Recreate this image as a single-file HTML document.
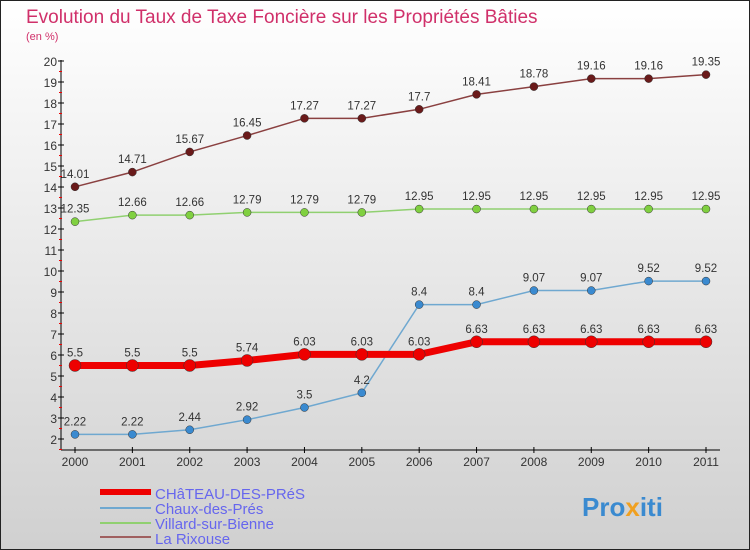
<!DOCTYPE html>
<html><head><meta charset="utf-8"><style>
body{margin:0;}
#c{width:750px;height:550px;position:relative;overflow:hidden;font-family:"Liberation Sans",sans-serif;}
</style></head><body>
<div id="c">
<svg id="s" width="750" height="550" xmlns="http://www.w3.org/2000/svg">
<defs><linearGradient id="bg" x1="0" y1="0" x2="0" y2="1"><stop offset="0" stop-color="#ffffff"/><stop offset="1" stop-color="#d0d0d0"/></linearGradient></defs>
<rect x="0.5" y="0.5" width="749" height="549" fill="url(#bg)" stroke="#222"/>
<text x="26" y="23" font-size="19" fill="#d0306a">Evolution du Taux de Taxe Foncière sur les Propriétés Bâties</text>
<text x="26" y="40" font-size="11" fill="#d0306a">(en %)</text>
<g id="axes"></g><g id="series"></g>
<g>
<line x1="100" y1="492" x2="151" y2="492" stroke="#ee0000" stroke-width="6"/>
<text x="155" y="499" font-size="15" fill="#6666ee">CHâTEAU-DES-PRéS</text>
<line x1="100" y1="508" x2="151" y2="508" stroke="#6fa8d0" stroke-width="2"/>
<text x="155" y="514" font-size="15" fill="#6666ee">Chaux-des-Prés</text>
<line x1="100" y1="523" x2="151" y2="523" stroke="#90d070" stroke-width="2"/>
<text x="155" y="529" font-size="15" fill="#6666ee">Villard-sur-Bienne</text>
<line x1="100" y1="537" x2="151" y2="537" stroke="#a06060" stroke-width="2"/>
<text x="155" y="544" font-size="15" fill="#6666ee">La Rixouse</text>
</g>
<text x="582" y="516" font-size="26" font-weight="bold" fill="#3a8ad0">Pro<tspan fill="#f0a020">x</tspan>iti</text>
</svg>
</div>
<script>
const years=[2000,2001,2002,2003,2004,2005,2006,2007,2008,2009,2010,2011];
const chateau=[5.5,5.5,5.5,5.74,6.03,6.03,6.03,6.63,6.63,6.63,6.63,6.63];
const chaux=[2.22,2.22,2.44,2.92,3.5,4.2,8.4,8.4,9.07,9.07,9.52,9.52];
const villard=[12.35,12.66,12.66,12.79,12.79,12.79,12.95,12.95,12.95,12.95,12.95,12.95];
const rixouse=[14.01,14.71,15.67,16.45,17.27,17.27,17.7,18.41,18.78,19.16,19.16,19.35];
const yTicks=[2,3,4,5,6,7,8,9,10,11,12,13,14,15,16,17,18,19,20];
const NS="http://www.w3.org/2000/svg";
function xS(i){return 75+i*(706-75)/11;}
function yS(v){return 439-(v-2)*(439-61)/18;}
function mk(t,a,p){const e=document.createElementNS(NS,t);for(const k in a)e.setAttribute(k,a[k]);p.appendChild(e);return e;}
const ax=document.getElementById('axes');
let e=mk('line',{x1:61,y1:60,x2:61,y2:450,stroke:'#000'},ax);


e=mk('line',{x1:61,y1:450,x2:720,y2:450,stroke:'#000'},ax);


yTicks.forEach(v=>{
 const y=yS(v);
 mk('line',{x1:58,y1:y,x2:64,y2:y,stroke:'#000'},ax);
 mk('line',{x1:59,y1:y+10.5,x2:62,y2:y+10.5,stroke:'#e00'},ax);
 const t=mk('text',{x:57,y:y+5,'font-size':12,'text-anchor':'end',fill:'#333'},ax);
 t.textContent=v;
 
 
});
years.forEach((yr,i)=>{
 const x=xS(i);
 mk('line',{x1:x,y1:447,x2:x,y2:453,stroke:'#000'},ax);
 const t=mk('text',{x:x,y:466,'font-size':12,'text-anchor':'middle',fill:'#333'},ax);
 t.textContent=yr;
 
 
});
const sg=document.getElementById('series');
function series(vals,name,col,dot,w,r){
 const g=mk('g',{},sg);
 
 
 const pl=mk('polyline',{points:vals.map((v,i)=>xS(i)+','+yS(v)).join(' '),fill:'none',stroke:col,'stroke-width':w},g);
 
 
 vals.forEach((v,i)=>{
  const c=mk('circle',{cx:xS(i),cy:yS(v),r:r,fill:dot,stroke:'#333','stroke-width':0.5},g);
  
  
  const t=mk('text',{x:xS(i),y:yS(v)-9,'font-size':11.5,'text-anchor':'middle',fill:'#333'},g);
  t.textContent=v;
  
  
 });
}
series(rixouse,'rixouse','#8a4040','#6a1a1a',1.5,4);
series(villard,'villard','#90d070','#80d040',1.5,4);
series(chaux,'chaux','#6fa8d0','#3a8ad0',1.5,4);
series(chateau,'chateau','#ee0000','#ee0000',7,6);
</script>
</body></html>
